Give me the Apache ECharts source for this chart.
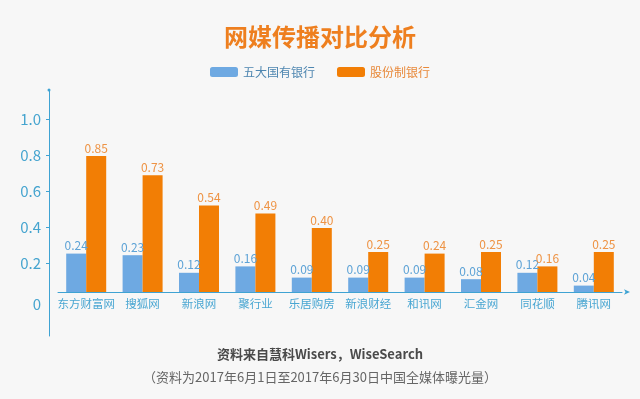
<!doctype html>
<html>
<head>
    <meta charset="UTF-8">
    <title>网媒传播对比分析</title>
    <script src="https://cdn.jsdelivr.net/npm/echarts@6/dist/echarts.min.js"></script>
    <style>
        html, body { margin: 0; padding: 0; background: #f7f7f7; }
        #main { width: 640px; height: 399px; }
    </style>
</head>
<body>
<div id="main"></div>
<script>
    var categories = ['东方财富网', '搜狐网', '新浪网', '聚行业', '乐居购房', '新浪财经', '和讯网', '汇金网', '同花顺', '腾讯网'];
    var bigFive = [0.24, 0.23, 0.12, 0.16, 0.09, 0.09, 0.09, 0.08, 0.12, 0.04];
    var jointStock = [0.85, 0.73, 0.54, 0.49, 0.40, 0.25, 0.24, 0.25, 0.16, 0.25];
    var seriesNames = ['五大国有银行', '股份制银行'];
    var yTicks = [0, 0.2, 0.4, 0.6, 0.8, 1.0];

    var axisColor = '#3fa3d3';
    var blue = '#6ea9e2';
    var orange = '#f27e05';
    var font = '"Noto Sans CJK SC", "Noto Sans", sans-serif';

    var myChart = echarts.init(document.getElementById('main'));

    // bars sit in grid 0, the labelled scale (which runs a little below the bars' baseline) in grid 1
    var option = {
        backgroundColor: '#f7f7f7',
        textStyle: { fontFamily: font },
        title: [
            {
                text: '网媒传播对比分析',
                left: 'center',
                top: 20,
                textStyle: { color: '#ee7f1f', fontSize: 24, fontWeight: 'bold', fontFamily: font }
            },
            {
                text: '资料来自慧科Wisers，WiseSearch',
                left: 'center',
                top: 343,
                textStyle: { color: '#4a4a4a', fontSize: 13, fontWeight: 'bold', fontFamily: font }
            },
            {
                text: '（资料为2017年6月1日至2017年6月30日中国全媒体曝光量）',
                left: 'center',
                top: 366,
                textStyle: { color: '#666', fontSize: 13, fontWeight: 'normal', fontFamily: font }
            }
        ],
        legend: {
            top: 61,
            left: 'center',
            icon: 'roundRect',
            itemWidth: 28,
            itemHeight: 10,
            itemGap: 22,
            textStyle: { fontSize: 12, fontFamily: font },
            data: [
                { name: seriesNames[0], textStyle: { color: '#4e86b0' } },
                { name: seriesNames[1], textStyle: { color: '#e8893a' } }
            ]
        },
        grid: [
            { left: 58, right: 18, top: 90, bottom: 107 },
            { left: 58, right: 18, top: 90, bottom: 63 }
        ],
        xAxis: [
            {
                type: 'category',
                gridIndex: 0,
                data: categories,
                axisLine: {
                    lineStyle: { color: axisColor, width: 1 },
                    symbol: ['none', 'arrow'],
                    symbolSize: [4, 6],
                    symbolOffset: [0, 8]
                },
                axisTick: { show: false },
                axisLabel: { color: '#49a6d2', fontSize: 11.5, margin: 6, interval: 0 }
            },
            {
                type: 'category',
                gridIndex: 1,
                data: categories,
                show: false
            }
        ],
        yAxis: [
            {
                type: 'value',
                gridIndex: 0,
                min: 0,
                max: 1.2625,
                show: false,
                splitLine: { show: false }
            },
            {
                type: 'value',
                gridIndex: 1,
                min: -0.2,
                max: 1.16,
                interval: 0.2,
                offset: 9,
                axisLine: {
                    show: true,
                    lineStyle: { color: axisColor, width: 1 },
                    symbol: ['none', 'circle'],
                    symbolSize: [3, 3]
                },
                axisTick: {
                    show: true,
                    length: 3,
                    lineStyle: { color: axisColor },
                    customValues: yTicks.slice(1)
                },
                splitLine: { show: false },
                axisLabel: {
                    color: '#45a4cf',
                    fontSize: 15,
                    margin: 8,
                    customValues: yTicks,
                    formatter: function (v) {
                        return v === 0 ? '{z|0}' : v.toFixed(1);
                    },
                    rich: {
                        z: { color: '#45a4cf', fontSize: 15, padding: [8, 0, 0, 0] }
                    }
                }
            }
        ],
        series: [
            {
                name: seriesNames[0],
                type: 'bar',
                xAxisIndex: 0,
                yAxisIndex: 0,
                data: bigFive,
                barWidth: 20,
                barGap: '0%',
                itemStyle: { color: blue },
                label: {
                    show: true,
                    position: 'top',
                    distance: 2,
                    color: '#5ea3d6',
                    fontSize: 12,
                    formatter: function (p) { return p.value.toFixed(2); }
                }
            },
            {
                name: seriesNames[1],
                type: 'bar',
                xAxisIndex: 0,
                yAxisIndex: 0,
                data: jointStock,
                barWidth: 20,
                itemStyle: { color: orange },
                label: {
                    show: true,
                    position: 'top',
                    distance: 2,
                    color: '#ee9344',
                    fontSize: 12,
                    formatter: function (p) { return p.value.toFixed(2); }
                }
            }
        ]
    };

    myChart.setOption(option);
</script>
</body>
</html>
